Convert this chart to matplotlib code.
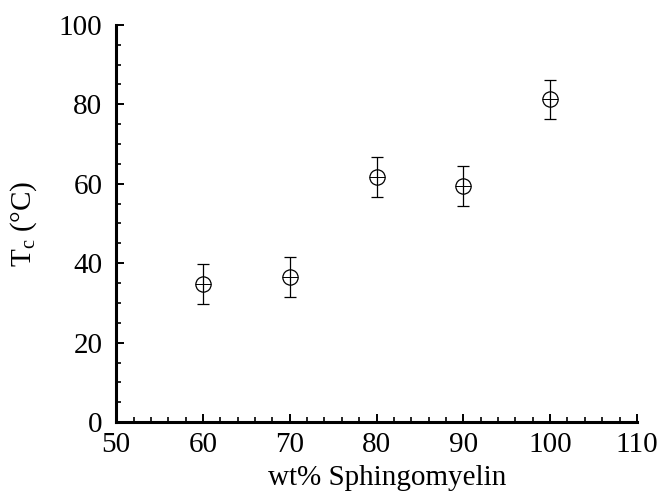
import matplotlib
matplotlib.use("Agg")
import matplotlib.pyplot as plt
from matplotlib.ticker import MultipleLocator

wt_sm = [60, 70, 80, 90, 100]
tc = [34.7, 36.6, 61.7, 59.4, 81.2]
tc_err = [5.0, 5.0, 5.0, 5.0, 5.0]

plt.rcParams['font.family'] = ['Liberation Serif', 'DejaVu Serif']
plt.rcParams['mathtext.fontset'] = 'custom'
plt.rcParams['mathtext.rm'] = 'Liberation Serif'
plt.rcParams['mathtext.it'] = 'Liberation Serif'

fig = plt.figure(figsize=(6.6, 4.96), dpi=100)
ax = fig.add_axes([0.176, 0.149, 0.789, 0.801])

ax.errorbar(wt_sm, tc, yerr=tc_err, fmt='none', ecolor='black', elinewidth=0.9,
            capsize=4, capthick=0.9, zorder=2)
ax.plot(wt_sm, tc, linestyle='none', marker='o', markersize=11, markerfacecolor='none',
        markeredgecolor='black', markeredgewidth=0.9, zorder=3)
ax.plot(wt_sm, tc, linestyle='none', marker='+', markersize=11,
        markeredgecolor='black', markeredgewidth=0.7, zorder=3)

ax.set_xlim(50, 110)
ax.set_ylim(0, 100)
ax.xaxis.set_major_locator(MultipleLocator(10))
ax.xaxis.set_minor_locator(MultipleLocator(2))
ax.yaxis.set_major_locator(MultipleLocator(20))
ax.yaxis.set_minor_locator(MultipleLocator(5))

for s in ['top', 'right']:
    ax.spines[s].set_visible(False)
for s in ['left', 'bottom']:
    ax.spines[s].set_linewidth(2.2)

ax.tick_params(which='major', direction='in', length=6, width=1.4, labelsize=21)
ax.tick_params(axis='x', which='major', pad=7)
ax.tick_params(axis='y', which='major', pad=10)
ax.tick_params(which='minor', direction='in', length=3.5, width=1.2)

ax.set_xlabel('wt% Sphingomyelin', fontsize=21)
ax.xaxis.set_label_coords(0.52, -0.108)
ax.set_ylabel('T$_{\\mathrm{c}}$ (°C)', fontsize=21, labelpad=14)

fig.savefig('out.png', dpi=100)
